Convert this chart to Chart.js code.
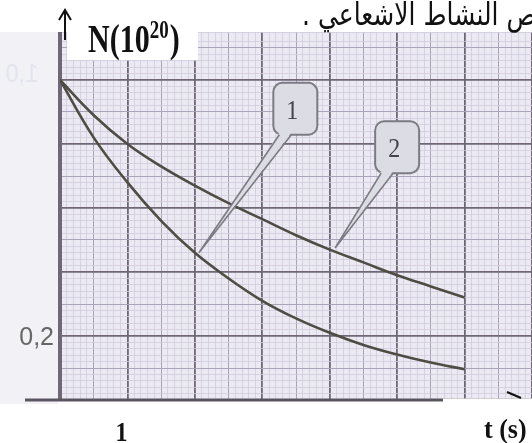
<!DOCTYPE html>
<html>
<head>
<meta charset="utf-8">
<script src="https://cdn.jsdelivr.net/npm/chart.js@4/dist/chart.umd.min.js"></script>
<style>
  html, body { margin: 0; padding: 0; background: #ffffff; }
  #wrap { position: relative; width: 532px; height: 443px; }
  canvas { display: block; }
</style>
</head>
<body>
<div id="wrap"><canvas id="c" width="532" height="443"></canvas></div>
<script>
// ---- data ----
const times = [0, 0.5, 1, 1.5, 2, 2.5, 3, 3.5, 4, 4.5, 5, 5.5, 6];           // t (s)
const curve1 = [1.00, 0.82, 0.68, 0.56, 0.46, 0.38, 0.31, 0.255, 0.21, 0.172, 0.142, 0.117, 0.096]; // N (10^20)
const curve2 = [1.00, 0.89, 0.80, 0.73, 0.67, 0.615, 0.565, 0.515, 0.47, 0.43, 0.39, 0.355, 0.32];
const seriesNames = ['1', '2'];
const xTickLabels = [{ value: 1, text: '1' }];
const yTickLabels = [{ value: 0.2, text: '0,2' }];
const ghostLabels = [{ value: 1.0, text: '1,0' }];
// callout labels: box centre and tip, in data units (t, N)
const callouts = [
  { text: '1', boxT: 3.49, boxN: 0.91, tipT: 2.06, tipN: 0.46 },
  { text: '2', boxT: 5.00, boxN: 0.79, tipT: 4.08, tipN: 0.475 }
];
const yAxisTitle = 'N(10';
const yAxisTitleSup = '20';
const xAxisTitle = 't (s)';
const headerText = 'تناقص النشاط الاشعاعي .';

const toPts = (ys) => times.map((t, i) => ({ x: t, y: ys[i] }));

const PAPER = '#ebeaf2';
const MINOR = '#d0ccdc';
const MID = '#aaa4b9';
const MAJOR = '#6f6676';

function stretchedText(ctx, txt, x, y, font, color, sy, align) {
  ctx.save();
  ctx.font = font;
  ctx.fillStyle = color;
  ctx.textAlign = align || 'left';
  ctx.textBaseline = 'alphabetic';
  ctx.translate(x, y);
  ctx.scale(1, sy);
  ctx.fillText(txt, 0, 0);
  ctx.restore();
}

const decor = {
  id: 'decor',
  beforeDraw(chart) {
    const { ctx, chartArea: a } = chart;
    ctx.save();
    ctx.fillStyle = '#ffffff';
    ctx.fillRect(0, 0, chart.width, chart.height);
    ctx.fillStyle = '#f2f2f6';
    ctx.fillRect(0, a.top - 4, a.left - 2, a.bottom - a.top + 8);
    ctx.fillStyle = PAPER;
    ctx.fillRect(a.left, a.top, a.right - a.left, a.bottom - a.top);
    ctx.restore();
  },
  afterDatasetsDraw(chart) {
    const { ctx, chartArea: a, scales: { x, y } } = chart;
    ctx.save();
    // callouts
    callouts.forEach(c => {
      const cx = x.getPixelForValue(c.boxT), cy = y.getPixelForValue(c.boxN);
      const tx = x.getPixelForValue(c.tipT), ty = y.getPixelForValue(c.tipN);
      const w = 44, h = 52, r = 9;
      const l = cx - w / 2, t = cy - h / 2;
      ctx.beginPath();
      ctx.roundRect(l, t, w, h, r);
      ctx.fillStyle = '#dcdce4';
      ctx.fill();
      ctx.lineWidth = 2;
      ctx.strokeStyle = '#7c7b84';
      ctx.stroke();
      const b1x = cx - 16, b2x = cx - 4, by = t + h;
      ctx.beginPath();
      ctx.moveTo(b1x, by - 2);
      ctx.lineTo(tx, ty);
      ctx.lineTo(b2x, by - 2);
      ctx.closePath();
      ctx.fillStyle = '#dcdce4';
      ctx.fill();
      ctx.beginPath();
      ctx.moveTo(b1x, by);
      ctx.lineTo(tx, ty);
      ctx.lineTo(b2x, by);
      ctx.lineWidth = 1.6;
      ctx.strokeStyle = '#7c7b84';
      ctx.stroke();
      stretchedText(ctx, c.text, cx - 3, cy + 10, '24px "Liberation Serif"', '#444448', 1.15, 'center');
    });

    // x axis extension to the left
    const y0 = y.getPixelForValue(0);
    ctx.beginPath();
    ctx.moveTo(a.left - 35, y0);
    ctx.lineTo(a.left, y0);
    ctx.lineWidth = 3;
    ctx.strokeStyle = '#5a5560';
    ctx.stroke();

    // white patch at lower right over the axis end
    ctx.fillStyle = '#ffffff';
    ctx.fillRect(443, y0 - 1.5, chart.width - 443, chart.height - y0 + 2);
    ctx.beginPath();
    ctx.moveTo(507, y0 - 8);
    ctx.lineTo(521, y0 - 2);
    ctx.lineWidth = 2;
    ctx.strokeStyle = '#111';
    ctx.stroke();

    // white patch behind the y title
    ctx.fillStyle = '#ffffff';
    ctx.fillRect(a.left + 7, 0, 131, 60);
    ctx.fillRect(0, 0, chart.width, a.top);

    // y axis arrow
    const ax = a.left + 5;
    ctx.beginPath();
    ctx.moveTo(ax, 40);
    ctx.lineTo(ax, 11);
    ctx.moveTo(ax - 6, 20);
    ctx.lineTo(ax, 10);
    ctx.lineTo(ax + 6, 20);
    ctx.lineWidth = 2;
    ctx.strokeStyle = '#111';
    ctx.stroke();

    // y axis title
    stretchedText(ctx, yAxisTitle, 88, 52, 'bold 30px "Liberation Serif"', '#111', 1.32);
    ctx.font = 'bold 30px "Liberation Serif"';
    const w1 = ctx.measureText(yAxisTitle).width;
    stretchedText(ctx, yAxisTitleSup, 88 + w1, 38, 'bold 19px "Liberation Serif"', '#111', 1.32);
    ctx.font = 'bold 19px "Liberation Serif"';
    const w2 = ctx.measureText(yAxisTitleSup).width;
    stretchedText(ctx, ')', 88 + w1 + w2 + 1, 52, 'bold 30px "Liberation Serif"', '#111', 1.32);

    // header (Arabic), cut at the right edge
    ctx.save();
    ctx.direction = 'rtl';
    stretchedText(ctx, headerText, 302, 25, '25px "DejaVu Sans"', '#111', 1.25, 'left');
    ctx.restore();

    // x tick label and x title
    xTickLabels.forEach(tl => {
      stretchedText(ctx, tl.text, x.getPixelForValue(tl.value) - 6, 441, 'bold 24px "Liberation Serif"', '#111', 1.1, 'center');
    });
    stretchedText(ctx, xAxisTitle, 484, 438, 'bold 26px "Liberation Serif"', '#111', 1.05, 'left');

    // y tick label
    yTickLabels.forEach(tl => {
      stretchedText(ctx, tl.text, 54, y.getPixelForValue(tl.value) + 9, '25px "Liberation Sans"', '#666', 1.05, 'right');
    });
    ghostLabels.forEach(tl => {
      ctx.save();
      ctx.translate(22, y.getPixelForValue(tl.value) + 2);
      ctx.scale(-1, 1.1);
      ctx.font = '24px "Liberation Sans"';
      ctx.fillStyle = '#e3e5ee';
      ctx.textAlign = 'center';
      ctx.fillText(tl.text, 0, 0);
      ctx.restore();
    });
    ctx.restore();
  }
};

function gridStyle(stepsPerMajor, stepsPerMid, unit) {
  return {
    color: (c) => {
      const v = Math.round(c.tick.value / unit);
      if (v === 0) return 'rgba(0,0,0,0)';
      if (v % stepsPerMajor === 0) return MAJOR;
      if (v % stepsPerMid === 0) return MID;
      return MINOR;
    },
    lineWidth: (c) => {
      const v = Math.round(c.tick.value / unit);
      if (v === 0) return 0;
      if (v % stepsPerMajor === 0) return 1.8;
      if (v % stepsPerMid === 0) return 1;
      return 0.8;
    }
  };
}

const xg = gridStyle(10, 5, 0.1);
const yg = gridStyle(10, 5, 0.02);

const axisLines = {
  id: 'axisLines',
  beforeDatasetsDraw(chart) {
    const { ctx, chartArea: a, scales: { x, y } } = chart;
    ctx.save();
    ctx.beginPath();
    ctx.moveTo(x.getPixelForValue(0), a.top);
    ctx.lineTo(x.getPixelForValue(0), a.bottom);
    ctx.lineWidth = 4;
    ctx.strokeStyle = '#6f6679';
    ctx.stroke();
    ctx.beginPath();
    ctx.moveTo(a.left, y.getPixelForValue(0));
    ctx.lineTo(a.right, y.getPixelForValue(0));
    ctx.lineWidth = 3;
    ctx.strokeStyle = '#5a5560';
    ctx.stroke();
    ctx.restore();
  }
};

new Chart(document.getElementById('c'), {
  type: 'line',
  data: {
    datasets: [
      { label: seriesNames[0], data: toPts(curve1), borderColor: '#4f4c44', borderWidth: 2.6, pointRadius: 0, tension: 0.4, fill: false },
      { label: seriesNames[1], data: toPts(curve2), borderColor: '#4f4c44', borderWidth: 2.6, pointRadius: 0, tension: 0.4, fill: false }
    ]
  },
  options: {
    responsive: false,
    animation: false,
    devicePixelRatio: 1,
    layout: { padding: { left: 60, top: 32, right: 0, bottom: 43 } },
    plugins: { legend: { display: false }, tooltip: { enabled: false } },
    scales: {
      x: {
        type: 'linear', min: 0, max: 7,
        ticks: { display: false, stepSize: 0.1, autoSkip: false },
        grid: { drawTicks: false, color: xg.color, lineWidth: xg.lineWidth },
        border: { display: false }
      },
      y: {
        type: 'linear', min: 0, max: 1.15,
        ticks: { display: false, stepSize: 0.02, autoSkip: false },
        grid: { drawTicks: false, color: yg.color, lineWidth: yg.lineWidth },
        border: { display: false }
      }
    }
  },
  plugins: [decor, axisLines]
});
</script>
</body>
</html>
